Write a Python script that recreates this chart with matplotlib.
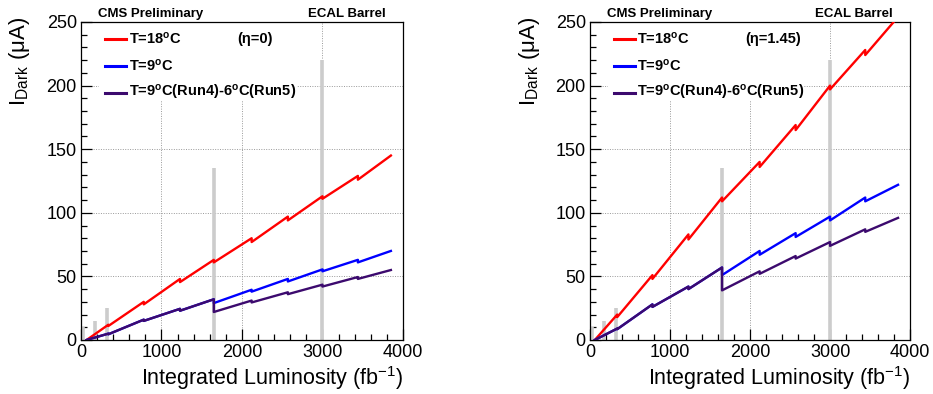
"""ECAL barrel APD dark current projection vs integrated luminosity (eta=0 and eta=1.45)."""
import matplotlib
matplotlib.use("Agg")
import matplotlib.pyplot as plt
from matplotlib.patches import Rectangle
from matplotlib.ticker import MultipleLocator

plt.rcParams["font.family"] = ["Liberation Sans", "DejaVu Sans"]
plt.rcParams["mathtext.fontset"] = "custom"
plt.rcParams["mathtext.rm"] = "Liberation Sans"
plt.rcParams["mathtext.bf"] = "Liberation Sans:bold"
plt.rcParams["mathtext.it"] = "Liberation Sans:italic"

# ------------------------------------------------------------------
# data (duplicated lumi = annealing drop)
# ------------------------------------------------------------------
# eta = 0
lumi_t18_eta0 = [70, 340, 340, 780, 780, 1230, 1230, 1650, 1650, 2120, 2120,
                 2570, 2570, 3000, 3000, 3440, 3440, 3850]
cur_t18_eta0 = [0, 12, 11, 30, 28, 48, 45.5, 63, 61, 80, 77,
                97, 94, 113, 111, 129, 126, 145]

lumi_t9_eta0 = [70, 340, 340, 780, 780, 1230, 1230, 1650, 1650, 2120, 2120,
                2570, 2570, 3000, 3000, 3440, 3440, 3850]
cur_t9_eta0 = [0, 5, 4.5, 16, 15, 24.5, 23, 32, 29, 39.5, 38,
               48, 46, 55.5, 54, 63, 61, 70]

lumi_t96_eta0 = [70, 340, 340, 780, 780, 1230, 1230, 1650, 1650, 2120, 2120,
                 2570, 2570, 3000, 3000, 3440, 3440, 3850]
cur_t96_eta0 = [0, 5, 4.5, 16, 15, 24.5, 23, 32, 22, 31, 29.5,
                37.5, 36, 43.5, 42, 49.5, 48, 55]

# eta = 1.45
lumi_t18_eta145 = [60, 340, 340, 780, 780, 1230, 1230, 1650, 1650, 2120, 2120,
                   2570, 2570, 3000, 3000, 3440, 3440, 3850]
cur_t18_eta145 = [0, 20, 18, 51, 48, 83, 79, 112, 109, 140, 136,
                  169, 165, 200, 197, 228, 224, 254]

lumi_t9_eta145 = [60, 340, 340, 780, 780, 1230, 1230, 1650, 1650, 2120, 2120,
                  2570, 2570, 3000, 3000, 3440, 3440, 3850]
cur_t9_eta145 = [0, 9, 8.5, 28, 26, 42, 40, 57, 51, 70, 67,
                 84, 81, 97, 94, 112, 109, 122]

lumi_t96_eta145 = [60, 340, 340, 780, 780, 1230, 1230, 1650, 1650, 2120, 2120,
                   2570, 2570, 3000, 3000, 3440, 3440, 3850]
cur_t96_eta145 = [0, 9, 8.5, 28, 26, 42, 40, 57, 39, 54, 52,
                  66, 64, 77, 74, 87, 85, 96]

# grey markers (run boundaries)
bar_lumi = [25, 175, 325, 1650, 3000]
bar_height = [10, 15, 25, 135, 220]

labels = ["T=18$^{\\mathbf{o}}$C", "T=9$^{\\mathbf{o}}$C",
          "T=9$^{\\mathbf{o}}$C(Run4)-6$^{\\mathbf{o}}$C(Run5)"]
colors = ["#ff0000", "#0000ff", "#3c0a6e"]

panels = [
    ("(η=0)", [(lumi_t18_eta0, cur_t18_eta0), (lumi_t9_eta0, cur_t9_eta0),
               (lumi_t96_eta0, cur_t96_eta0)]),
    ("(η=1.45)", [(lumi_t18_eta145, cur_t18_eta145),
                  (lumi_t9_eta145, cur_t9_eta145),
                  (lumi_t96_eta145, cur_t96_eta145)]),
]


def draw_panel(ax, eta_label, curves):
    ax.set_xlim(0, 4000)
    ax.set_ylim(0, 250)
    ax.xaxis.set_major_locator(MultipleLocator(1000))
    ax.xaxis.set_minor_locator(MultipleLocator(200))
    ax.yaxis.set_major_locator(MultipleLocator(50))
    ax.yaxis.set_minor_locator(MultipleLocator(10))
    ax.tick_params(which="both", direction="in", top=False, right=False,
                   labelsize=13, width=0.9, pad=3)
    ax.tick_params(which="major", length=8)
    ax.tick_params(which="minor", length=4.3)
    ax.grid(True, which="major", linestyle=(0, (1, 1.5)), color="#999999",
            lw=0.7, zorder=0)
    ax.set_axisbelow(True)
    for sp in ax.spines.values():
        sp.set_linewidth(0.9)

    ax.vlines(bar_lumi, 0, bar_height, colors="#cccccc", lw=2.6, zorder=1.5)

    for (x, y), c in zip(curves, colors):
        ax.plot(x, y, color=c, lw=1.7, zorder=3)

    # legend box (white, no border) hides the grid behind it
    ax.add_patch(Rectangle((0.055, 0.755), 0.615, 0.245, transform=ax.transAxes,
                           facecolor="white", edgecolor="none", zorder=2))
    ys = [0.9465, 0.8616, 0.7767]
    for yy, lab, c in zip(ys, labels, colors):
        ax.plot([0.074, 0.14], [yy, yy], transform=ax.transAxes, color=c,
                lw=2.2, zorder=4, clip_on=False)
        ax.text(0.148, yy, lab, transform=ax.transAxes, fontsize=10.5,
                fontweight="bold", va="center", ha="left", zorder=4)
    ax.text(0.484, ys[0], eta_label, transform=ax.transAxes, fontsize=10.5,
            fontweight="bold", va="center", ha="left", zorder=4)

    ax.text(0.053, 1.025, "CMS Preliminary", transform=ax.transAxes,
            fontsize=9.5, fontweight="bold", va="center", ha="left")
    ax.text(0.945, 1.025, "ECAL Barrel", transform=ax.transAxes,
            fontsize=9.5, fontweight="bold", va="center", ha="right")

    ax.set_xlabel("Integrated Luminosity (fb$^{-1}$)", fontsize=15.5)
    ax.xaxis.set_label_coords(1.0, -0.12)
    ax.xaxis.label.set_horizontalalignment("right")
    ax.xaxis.label.set_verticalalignment("center")
    ax.set_ylabel("I$_{\\rm Dark}$ (μA)", fontsize=16)
    ax.yaxis.set_label_coords(-0.19, 1.017)
    ax.yaxis.label.set_horizontalalignment("right")
    ax.yaxis.label.set_verticalalignment("center")


fig = plt.figure(figsize=(9.33, 3.94), dpi=100)
ax_l = fig.add_axes([0.0868, 0.1371, 0.3451, 0.8071])
ax_r = fig.add_axes([0.6324, 0.1371, 0.3430, 0.8071])
for ax, (eta_label, curves) in zip([ax_l, ax_r], panels):
    draw_panel(ax, eta_label, curves)

fig.savefig("out.png", dpi=100)
